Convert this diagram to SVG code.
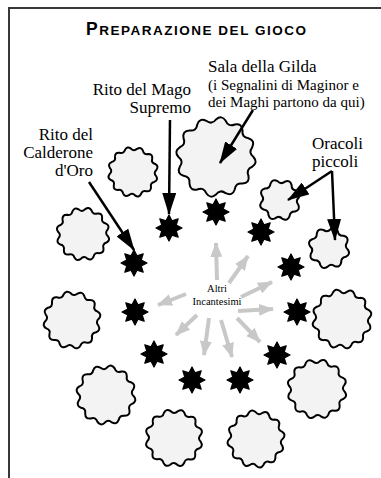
<svg xmlns="http://www.w3.org/2000/svg" xmlns:xlink="http://www.w3.org/1999/xlink" width="381" height="478" viewBox="0 0 381 478">
<style>
.cog{fill:#f3f3f3;stroke:#000;stroke-width:2;stroke-linejoin:round;vector-effect:non-scaling-stroke}
.star{fill:#000;stroke:#000;stroke-width:1.2;stroke-linejoin:round;vector-effect:non-scaling-stroke}
.lbl{font-family:"Liberation Serif","Times New Roman",serif;font-size:17px;fill:#000}
.sub{font-size:15px}
.ptr{stroke:#000;stroke-width:2.5;fill:none}
.garr{stroke:#c8c8c8;stroke-width:4;fill:none}
</style>
<defs>
<path id="cog12" class="cog" d="M100,0 Q113.02,14.88 96.59,25.88 Q79.45,32.91 86.60,50 Q90.44,69.40 70.71,70.71 Q52.35,68.23 50,86.60 Q43.63,105.32 25.88,96.59 Q11.23,85.26 0,100 Q-14.88,113.02 -25.88,96.59 Q-32.91,79.45 -50,86.60 Q-69.40,90.44 -70.71,70.71 Q-68.23,52.35 -86.60,50 Q-105.32,43.63 -96.59,25.88 Q-85.26,11.23 -100,0 Q-113.02,-14.88 -96.59,-25.88 Q-79.45,-32.91 -86.60,-50 Q-90.44,-69.40 -70.71,-70.71 Q-52.35,-68.23 -50,-86.60 Q-43.63,-105.32 -25.88,-96.59 Q-11.23,-85.26 0,-100 Q14.88,-113.02 25.88,-96.59 Q32.91,-79.45 50,-86.60 Q69.40,-90.44 70.71,-70.71 Q68.23,-52.35 86.60,-50 Q105.32,-43.63 96.59,-25.88 Q85.26,-11.23 100,0 Z"/>
<path id="cog8" class="cog" d="M100,0 Q117.69,23.41 92.39,38.27 Q66.52,44.45 70.71,70.71 Q66.67,99.78 38.27,92.39 Q15.61,78.46 0,100 Q-23.41,117.69 -38.27,92.39 Q-44.45,66.52 -70.71,70.71 Q-99.78,66.67 -92.39,38.27 Q-78.46,15.61 -100,0 Q-117.69,-23.41 -92.39,-38.27 Q-66.52,-44.45 -70.71,-70.71 Q-66.67,-99.78 -38.27,-92.39 Q-15.61,-78.46 0,-100 Q23.41,-117.69 38.27,-92.39 Q44.45,-66.52 70.71,-70.71 Q99.78,-66.67 92.39,-38.27 Q78.46,-15.61 100,0 Z"/>
<polygon id="star8" class="star" points="0,-100 22.96,-55.43 70.71,-70.71 55.43,-22.96 100,0 55.43,22.96 70.71,70.71 22.96,55.43 0,100 -22.96,55.43 -70.71,70.71 -55.43,22.96 -100,0 -55.43,-22.96 -70.71,-70.71 -22.96,-55.43"/>
<marker id="bhead" markerUnits="userSpaceOnUse" viewBox="0 0 22 14" markerWidth="22" markerHeight="14" refX="21" refY="7" orient="auto">
<path d="M0,0 L22,7 L0,14 Z" fill="#000"/>
</marker>
<marker id="ghead" markerUnits="userSpaceOnUse" viewBox="0 0 15 12" markerWidth="15" markerHeight="12" refX="14" refY="6" orient="auto">
<path d="M0,0 L15,6 L0,12 Z" fill="#c8c8c8"/>
</marker>
</defs>

<rect width="381" height="478" fill="#fff"/>
<path d="M9,478 L9,8 L381,8" fill="none" stroke="#383838" stroke-width="2"/>

<text x="86" y="35" textLength="220" lengthAdjust="spacing" font-family="'Liberation Sans',Arial,sans-serif" font-weight="bold" fill="#000"><tspan font-size="17.5">P</tspan><tspan font-size="13.5">REPARAZIONE DEL GIOCO</tspan></text>

<g id="labels">
<text class="lbl" x="208" y="72">Sala della Gilda</text>
<text class="lbl sub" x="208" y="90">(i Segnalini di Maginor e</text>
<text class="lbl sub" x="208" y="106.5">dei Maghi partono da qui)</text>
<text class="lbl" x="191" y="95" text-anchor="end">Rito del Mago</text>
<text class="lbl" x="191" y="113" text-anchor="end">Supremo</text>
<text class="lbl" x="93" y="140" text-anchor="end">Rito del</text>
<text class="lbl" x="93" y="158" text-anchor="end">Calderone</text>
<text class="lbl" x="93" y="176" text-anchor="end">d'Oro</text>
<text class="lbl" x="312" y="149">Oracoli</text>
<text class="lbl" x="312" y="167">piccoli</text>
</g>

<g id="sala-gilda"><use xlink:href="#cog12" transform="translate(216,157) scale(0.375)"/></g>
<g id="cog-2"><use xlink:href="#cog12" transform="translate(133,172) rotate(10) scale(0.235)"/></g>
<g id="cog-3"><use xlink:href="#cog12" transform="translate(83,234) rotate(5) scale(0.25)"/></g>
<g id="cog-4"><use xlink:href="#cog12" transform="translate(72,320) rotate(12) scale(0.27)"/></g>
<g id="cog-5"><use xlink:href="#cog12" transform="translate(106,395) rotate(3) scale(0.28)"/></g>
<g id="cog-6"><use xlink:href="#cog12" transform="translate(174,438) rotate(8) scale(0.27)"/></g>
<g id="cog-7"><use xlink:href="#cog12" transform="translate(256,439) rotate(14) scale(0.27)"/></g>
<g id="cog-8"><use xlink:href="#cog12" transform="translate(317,389) rotate(6) scale(0.28)"/></g>
<g id="cog-9"><use xlink:href="#cog12" transform="translate(342,319) rotate(11) scale(0.28)"/></g>
<g id="oracolo-1"><use xlink:href="#cog8" transform="translate(280,200) rotate(15) scale(0.19)"/></g>
<g id="oracolo-2"><use xlink:href="#cog8" transform="translate(329,248) rotate(5) scale(0.19)"/></g>

<g id="star-1"><use xlink:href="#star8" transform="translate(216,212) scale(0.13)"/></g>
<g id="star-2"><use xlink:href="#star8" transform="translate(169,228) scale(0.13)"/></g>
<g id="star-3"><use xlink:href="#star8" transform="translate(261,232) scale(0.13)"/></g>
<g id="star-4"><use xlink:href="#star8" transform="translate(134,263) scale(0.13)"/></g>
<g id="star-5"><use xlink:href="#star8" transform="translate(291,267) scale(0.13)"/></g>
<g id="star-6"><use xlink:href="#star8" transform="translate(135,312) scale(0.13)"/></g>
<g id="star-7"><use xlink:href="#star8" transform="translate(297,312) scale(0.13)"/></g>
<g id="star-8"><use xlink:href="#star8" transform="translate(154,354) scale(0.13)"/></g>
<g id="star-9"><use xlink:href="#star8" transform="translate(277,355) scale(0.13)"/></g>
<g id="star-10"><use xlink:href="#star8" transform="translate(192,380) scale(0.13)"/></g>
<g id="star-11"><use xlink:href="#star8" transform="translate(240,380) scale(0.13)"/></g>

<g id="altri-incantesimi">
<text x="217" y="292" text-anchor="middle" font-family="'Liberation Serif','Times New Roman',serif" font-size="10.5" fill="#000">Altri</text>
<text x="217" y="305" text-anchor="middle" font-family="'Liberation Serif','Times New Roman',serif" font-size="10.5" fill="#000">Incantesimi</text>
</g>

<g id="connectors">
<line class="ptr" x1="253" y1="110" x2="220" y2="163" marker-end="url(#bhead)"/>
<line class="ptr" x1="170" y1="120" x2="169" y2="214" marker-end="url(#bhead)"/>
<line class="ptr" x1="89" y1="182" x2="134" y2="250" marker-end="url(#bhead)"/>
<line class="ptr" x1="332" y1="171" x2="288" y2="200" marker-end="url(#bhead)"/>
<line class="ptr" x1="332" y1="171" x2="335" y2="240" marker-end="url(#bhead)"/>
<line class="garr" x1="217" y1="280" x2="216" y2="243" marker-end="url(#ghead)"/>
<line class="garr" x1="229" y1="283" x2="248" y2="256" marker-end="url(#ghead)"/>
<line class="garr" x1="241" y1="297" x2="272" y2="282" marker-end="url(#ghead)"/>
<line class="garr" x1="238" y1="311" x2="273" y2="309" marker-end="url(#ghead)"/>
<line class="garr" x1="186" y1="294" x2="158" y2="305" marker-end="url(#ghead)"/>
<line class="garr" x1="197" y1="315" x2="176" y2="335" marker-end="url(#ghead)"/>
<line class="garr" x1="209" y1="318" x2="204" y2="355" marker-end="url(#ghead)"/>
<line class="garr" x1="221" y1="320" x2="232" y2="357" marker-end="url(#ghead)"/>
<line class="garr" x1="237" y1="318" x2="260" y2="342" marker-end="url(#ghead)"/>
</g>
</svg>
